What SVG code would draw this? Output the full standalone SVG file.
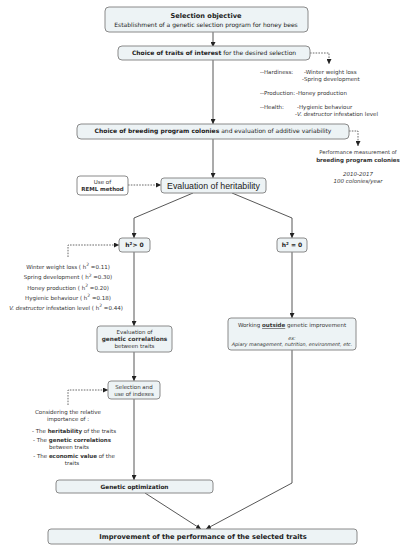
<svg xmlns="http://www.w3.org/2000/svg" width="408" height="550" viewBox="0 0 408 550">
<defs>
<marker id="ah" viewBox="0 0 10 10" refX="10" refY="5" markerWidth="5" markerHeight="5" orient="auto" markerUnits="userSpaceOnUse">
<path d="M0,0 L10,5 L0,10 z" fill="#222"/>
</marker>
</defs>
<style>
.box{fill:#edf3f5;stroke:#8a8a8a;stroke-width:1}
.wbox{fill:#ffffff;stroke:#8a8a8a;stroke-width:1}
.t{font-family:"DejaVu Sans",Verdana,sans-serif;font-size:6px;fill:#222;text-anchor:middle}
.s{font-family:"DejaVu Sans",Verdana,sans-serif;font-size:5.5px;fill:#333;text-anchor:middle}
.l{text-anchor:start}
.b{font-weight:bold}
.i{font-style:italic}
.big{font-family:"Liberation Sans",Arial,sans-serif;font-size:8.8px;fill:#222;text-anchor:middle}
.ln{fill:none;stroke:#444;stroke-width:0.9}
.dl{fill:none;stroke:#444;stroke-width:0.8;stroke-dasharray:1.6,1.2}
</style>
<rect width="408" height="550" fill="#ffffff"/>
<g id="connectors">
<path class="ln" d="M213,32 V47" marker-end="url(#ah)"/>
<path class="dl" d="M310,53 H329 V64" marker-end="url(#ah)"/>
<path class="ln" d="M213,60 V124" marker-end="url(#ah)"/>
<path class="dl" d="M349,131 H358 V146" marker-end="url(#ah)"/>
<path class="ln" d="M213,139 V178" marker-end="url(#ah)"/>
<path class="dl" d="M128,185 H161" marker-end="url(#ah)"/>
<path class="ln" d="M193,193 L134,218 V238" marker-end="url(#ah)"/>
<path class="ln" d="M232,193 L292,218 V238" marker-end="url(#ah)"/>
<path class="dl" d="M68,257 V245 H119" marker-end="url(#ah)"/>
<path class="ln" d="M134,252 V326" marker-end="url(#ah)"/>
<path class="ln" d="M292,252 V318" marker-end="url(#ah)"/>
<path class="ln" d="M134,352 V381" marker-end="url(#ah)"/>
<path class="dl" d="M68,405 V390 H108" marker-end="url(#ah)"/>
<path class="ln" d="M134,399 V480" marker-end="url(#ah)"/>
<path class="ln" d="M145,493 L201,529" marker-end="url(#ah)"/>
<path class="ln" d="M292,350 V483 L206,529" marker-end="url(#ah)"/>
</g>
<g id="objective">
<rect class="box" x="105" y="7" width="203" height="25" rx="4"/>
<text class="t b" x="206" y="17.5" style="font-size:6.6px">Selection objective</text>
<text class="t" x="206" y="26.5">Establishment of a genetic selection program for honey bees</text>
</g>
<g id="traits">
<rect class="box" x="118" y="46" width="192" height="14" rx="4"/>
<text class="t" x="214" y="55.2"><tspan class="b">Choice of traits of interest</tspan> for the desired selection</text>
</g>
<g id="traitlist">
<text class="s l" x="260" y="73.5">--Hardiness:</text>
<text class="s l" x="304" y="73.5">-Winter weight loss</text>
<text class="s l" x="302" y="80.5">-Spring development</text>
<text class="s l" x="260" y="94.5">--Production:</text>
<text class="s l" x="296" y="94.5">-Honey production</text>
<text class="s l" x="260" y="108.5">--Health:</text>
<text class="s l" x="297" y="108.5">-Hygienic behaviour</text>
<text class="s l" x="295" y="115.5">-<tspan class="i">V. destructor</tspan>  infestation level</text>
</g>
<g id="colonies">
<rect class="box" x="77" y="124" width="272" height="15" rx="4"/>
<text class="t" x="213" y="133.3"><tspan class="b">Choice of breeding program colonies</tspan> and evaluation of additive variability</text>
</g>
<g id="performance">
<text class="s" x="358" y="154" style="font-size:5.2px">Performance measurement of</text>
<text class="s b" x="358" y="161.5" style="font-size:5.5px">breeding program colonies</text>
<text class="s i" x="358" y="176">2010-2017</text>
<text class="s i" x="358" y="183">100 colonies/year</text>
</g>
<g id="reml">
<rect class="wbox" x="77" y="176" width="51" height="19" rx="3"/>
<text class="s" x="102.5" y="183.5">Use of</text>
<text class="s b" x="102.5" y="190.5">REML method</text>
</g>
<g id="heritability">
<rect class="box" x="161" y="178" width="105" height="15" rx="3"/>
<text class="big" x="213.5" y="188.6">Evaluation of heritability</text>
</g>
<g id="hpos">
<rect class="box" x="119" y="238" width="31" height="14" rx="3"/>
<text class="t b" x="134.5" y="247.3">h<tspan font-size="4" dy="-2">2</tspan><tspan dy="2">&gt; 0</tspan></text>
</g>
<g id="hzero">
<rect class="box" x="277" y="238" width="30" height="14" rx="3"/>
<text class="t b" x="292" y="247.3">h<tspan font-size="4" dy="-2">2</tspan><tspan dy="2"> = 0</tspan></text>
</g>
<g id="h2list">
<text class="s" x="68" y="268.5">Winter weight loss ( h<tspan font-size="4.5" dy="-2.5">2</tspan><tspan dy="2.5"> =0.11)</tspan></text>
<text class="s" x="68" y="279">Spring development ( h<tspan font-size="4.5" dy="-2.5">2</tspan><tspan dy="2.5"> =0.30)</tspan></text>
<text class="s" x="68" y="289.5">Honey production ( h<tspan font-size="4.5" dy="-2.5">2</tspan><tspan dy="2.5"> =0.20)</tspan></text>
<text class="s" x="68" y="299.5">Hygienic behaviour ( h<tspan font-size="4.5" dy="-2.5">2</tspan><tspan dy="2.5"> =0.18)</tspan></text>
<text class="s" x="66" y="309.5"><tspan class="i">V. destructor</tspan>  infestation level ( h<tspan font-size="4.5" dy="-2.5">2</tspan><tspan dy="2.5"> =0.44)</tspan></text>
</g>
<g id="correlations">
<rect class="box" x="97" y="326" width="75" height="26" rx="3"/>
<text class="s" x="134.5" y="333.5">Evaluation of</text>
<text class="s b" x="134.5" y="340.5" style="font-size:5.8px">genetic correlations</text>
<text class="s" x="134.5" y="347.5">between traits</text>
</g>
<g id="outside">
<rect class="box" x="228" y="318" width="128" height="32" rx="3"/>
<text class="s" x="292" y="327">Working <tspan class="b" text-decoration="underline">outside</tspan> genetic improvement</text>
<text class="s i" x="292" y="339.5" style="font-size:4.9px">ex:</text>
<text class="s i" x="292" y="345.5" style="font-size:4.9px">Apiary management, nutrition, environment, etc.</text>
</g>
<g id="indexes">
<rect class="box" x="108" y="381" width="52" height="18" rx="3"/>
<text class="s" x="134" y="388.5">Selection and</text>
<text class="s" x="134" y="395.5">use of indexes</text>
</g>
<g id="considering">
<text class="s" x="68" y="413.5">Considering the relative</text>
<text class="s" x="68" y="420.5">importance of :</text>
<text class="s" x="74" y="432.5">- The <tspan class="b">heritability</tspan> of the traits</text>
<text class="s" x="72" y="442">- The <tspan class="b">genetic correlations</tspan></text>
<text class="s" x="69" y="448.5">between traits</text>
<text class="s" x="74" y="457.5">- The <tspan class="b">economic value</tspan> of the</text>
<text class="s" x="72" y="464.5">traits</text>
</g>
<g id="optimization">
<rect class="box" x="56" y="480" width="157" height="13" rx="3"/>
<text class="t b" x="134.5" y="488.6" style="font-size:5.8px">Genetic optimization</text>
</g>
<g id="improvement">
<rect class="box" x="48" y="529" width="309" height="15" rx="3"/>
<text class="t b" x="203" y="539.2" style="font-size:6.7px">Improvement of the performance of the selected traits</text>
</g>
</svg>
